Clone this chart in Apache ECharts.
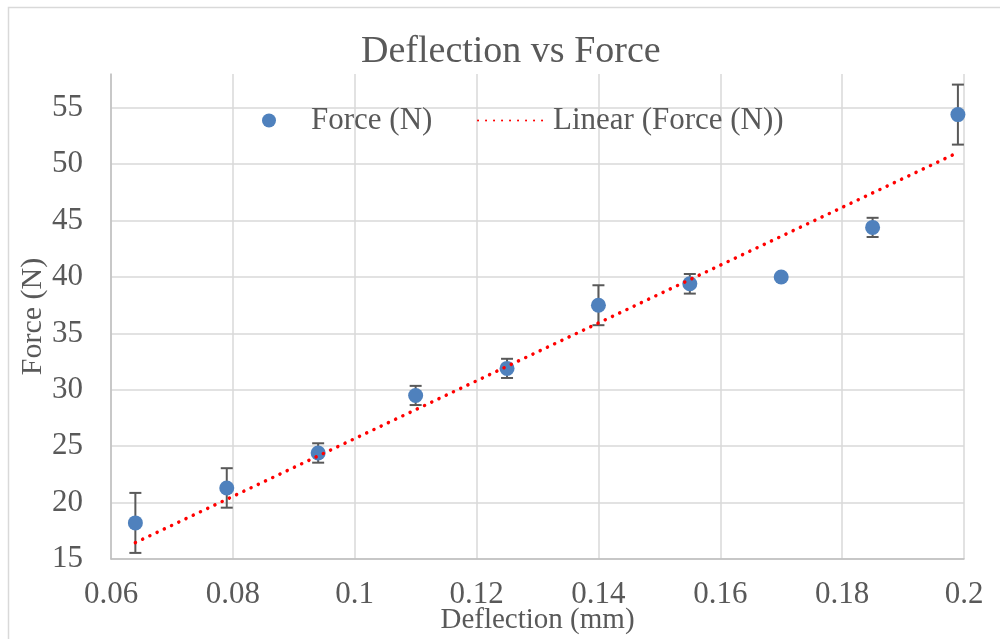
<!DOCTYPE html>
<html>
<head>
<meta charset="utf-8">
<script src="https://cdn.jsdelivr.net/npm/echarts@6/dist/echarts.min.js"></script>
<style>
  html, body { margin: 0; padding: 0; background: #fff; }
  #chart { width: 1000px; height: 639px; }
</style>
</head>
<body>
<div id="chart"></div>
<script>
// values
const deflection = [0.064, 0.079, 0.094, 0.110, 0.125, 0.140, 0.155, 0.170, 0.185, 0.199];
const force = [18.2, 21.3, 24.4, 29.5, 31.9, 37.5, 39.4, 40.0, 44.4, 54.4];
const forceErr = [2.66, 1.75, 0.86, 0.85, 0.85, 1.77, 0.87, 0, 0.85, 2.66];
// end points of the Excel linear trend line
const trendX = [0.064, 0.199];
const trendY = [16.45, 51.04];

const xTicks = { min: 0.06, max: 0.2, interval: 0.02 };
const yTicks = { min: 15, max: 58, interval: 5 };

const FONT = 'Liberation Serif';
const TEXT = '#595959';
const BLUE = '#4F81BD';
const RED = '#FF0000';

const points = deflection.map((x, i) => [x, force[i]]);
const errBars = deflection.map((x, i) => [x, force[i] - forceErr[i], force[i] + forceErr[i]]);
const trend = trendX.map((x, i) => [x, trendY[i]]);

const chart = echarts.init(document.getElementById('chart'));

chart.setOption({
  animation: false,
  backgroundColor: '#fff',
  textStyle: { fontFamily: FONT, color: TEXT },
  graphic: [{
    type: 'rect',
    shape: { x: 8.5, y: 7.5, width: 1000, height: 700 },
    style: { fill: 'none', stroke: '#D9D9D9', lineWidth: 1.5 },
    silent: true
  }],
  title: {
    text: 'Deflection vs Force',
    left: 356,
    top: 28,
    textStyle: { fontFamily: FONT, fontSize: 38, fontWeight: 'normal', color: TEXT }
  },
  legend: [
    {
      data: [{ name: 'Force (N)', icon: 'circle' }],
      left: 257,
      top: 100,
      itemWidth: 14,
      itemHeight: 14,
      textStyle: { fontFamily: FONT, fontSize: 31, color: TEXT, padding: [0, 0, 0, 30] }
    },
    {
      data: [{ name: 'Linear (Force (N))', itemStyle: { color: 'rgba(0,0,0,0)', borderWidth: 0 } }],
      left: 472,
      top: 100,
      itemWidth: 66,
      itemHeight: 14,
      textStyle: { fontFamily: FONT, fontSize: 31, color: TEXT, padding: [0, 0, 0, 4] }
    }
  ],
  grid: { left: 111, right: 36, top: 74, bottom: 80, outerBoundsMode: 'none' },
  xAxis: {
    type: 'value',
    min: xTicks.min,
    max: xTicks.max,
    interval: xTicks.interval,
    name: 'Deflection (mm)',
    nameLocation: 'middle',
    nameGap: 47,
    nameMoveOverlap: false,
    nameTextStyle: { fontFamily: FONT, fontSize: 29, color: TEXT },
    axisLine: { lineStyle: { color: '#BFBFBF', width: 1.5 } },
    axisTick: { show: false },
    axisLabel: { fontFamily: FONT, fontSize: 31, color: TEXT, margin: 20 },
    splitLine: { show: true, lineStyle: { color: '#D9D9D9', width: 1.5 } }
  },
  yAxis: {
    type: 'value',
    min: yTicks.min,
    max: yTicks.max,
    interval: yTicks.interval,
    name: 'Force (N)',
    nameLocation: 'middle',
    nameGap: 63,
    nameMoveOverlap: false,
    nameTextStyle: { fontFamily: FONT, fontSize: 30, color: TEXT },
    axisLine: { show: true, lineStyle: { color: '#BFBFBF', width: 1.5 } },
    axisTick: { show: false },
    axisLabel: { fontFamily: FONT, fontSize: 31, color: TEXT, margin: 28, showMaxLabel: false },
    splitLine: { show: true, showMaxLine: false, lineStyle: { color: '#D9D9D9', width: 1.5 } }
  },
  series: [
    {
      name: 'errors',
      type: 'custom',
      z: 1,
      data: errBars,
      renderItem: (params, api) => {
        const x = api.value(0);
        const lo = api.coord([x, api.value(1)]);
        const hi = api.coord([x, api.value(2)]);
        if (hi[1] === lo[1]) return null;
        const w = 6;
        const style = { stroke: '#595959', lineWidth: 2 };
        return {
          type: 'group',
          children: [
            { type: 'line', shape: { x1: lo[0], y1: lo[1], x2: hi[0], y2: hi[1] }, style },
            { type: 'line', shape: { x1: lo[0] - w, y1: lo[1], x2: lo[0] + w, y2: lo[1] }, style },
            { type: 'line', shape: { x1: hi[0] - w, y1: hi[1], x2: hi[0] + w, y2: hi[1] }, style }
          ]
        };
      }
    },
    {
      name: 'Force (N)',
      type: 'scatter',
      z: 2,
      data: points,
      symbol: 'circle',
      symbolSize: 15,
      itemStyle: { color: BLUE, opacity: 1 }
    },
    {
      name: 'Linear (Force (N))',
      type: 'line',
      z: 3,
      data: trend,
      symbol: 'none',
      itemStyle: { color: RED },
      lineStyle: { color: RED, width: 3.5, type: [0.1, 7.9], cap: 'round' }
    }
  ]
});
</script>
</body>
</html>
